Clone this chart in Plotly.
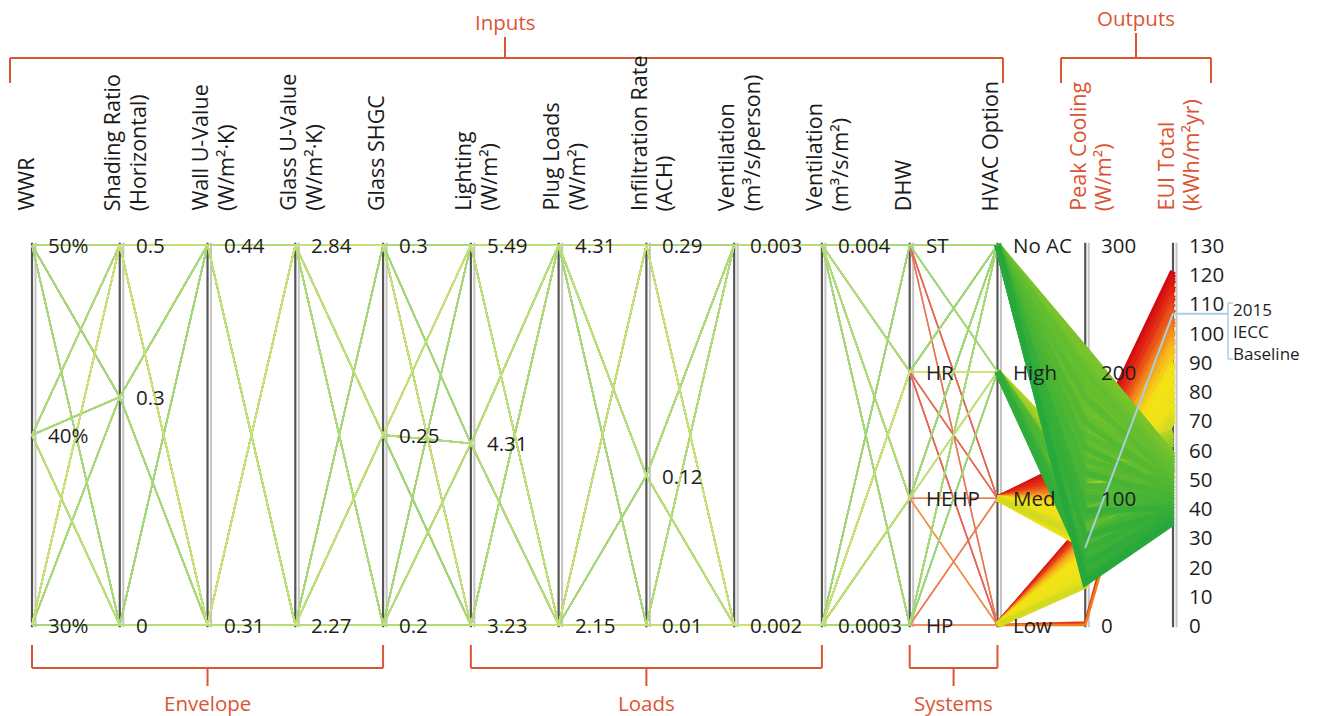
import plotly.graph_objects as go
from plotly.colors import sample_colorscale

W, H = 1317, 716
AX0, AXSTEP = 32.0, 87.77      # pixel x of first axis and spacing between axes
YTOP, YBOT = 245.0, 625.0      # pixel y of axis top / bottom
FONT = "Open Sans"

# ---------------- axes: titles, levels, tick labels ----------------
axis_titles = [["WWR"], ["Shading Ratio", "(Horizontal)"], ["Wall U-Value", "(W/m²·K)"],
               ["Glass U-Value", "(W/m²·K)"], ["Glass SHGC"], ["Lighting", "(W/m²)"],
               ["Plug Loads", "(W/m²)"], ["Infiltration Rate", "(ACH)"],
               ["Ventilation", "(m³/s/person)"], ["Ventilation", "(m³/s/m²)"],
               ["DHW"], ["HVAC Option"], ["Peak Cooling", "(W/m²)"], ["EUI Total", "(kWh/m²yr)"]]

wwr_vals = [30, 40, 50];            wwr_text = ["30%", "40%", "50%"]
shade_vals = [0, 0.3, 0.5];         shade_text = ["0", "0.3", "0.5"]
wallu_vals = [0.31, 0.44];          wallu_text = ["0.31", "0.44"]
glassu_vals = [2.27, 2.84];         glassu_text = ["2.27", "2.84"]
shgc_vals = [0.2, 0.25, 0.3];       shgc_text = ["0.2", "0.25", "0.3"]
light_vals = [3.23, 4.31, 5.49];    light_text = ["3.23", "4.31", "5.49"]
plug_vals = [2.15, 4.31];           plug_text = ["2.15", "4.31"]
infil_vals = [0.01, 0.12, 0.29];    infil_text = ["0.01", "0.12", "0.29"]
ventp_vals = [0.002, 0.003];        ventp_text = ["0.002", "0.003"]
venta_vals = [0.0003, 0.004];       venta_text = ["0.0003", "0.004"]
dhw_cats = ["HP", "HEHP", "HR", "ST"]
hvac_cats = ["Low", "Med", "High", "No AC"]
peak_range = [0, 300];  peak_ticks = [0, 100, 200, 300]
eui_range = [0, 130];   eui_ticks = [0, 10, 20, 30, 40, 50, 60, 70, 80, 90, 100, 110, 120, 130]

# ---------------- design samples (inputs except HVAC) ----------------
design_wwr = [50, 50, 40, 30, 50, 40, 30, 40, 30, 50, 40, 30, 50, 40, 30, 50, 30, 40, 50, 30, 40, 50, 30, 40]
design_shade = [0.5, 0, 0.3, 0.5, 0.3, 0.5, 0, 0, 0.3, 0, 0.5, 0.5, 0.3, 0, 0.3, 0.5, 0, 0.3, 0, 0.5, 0, 0.3, 0.3, 0.5]
design_wallu = [0.44, 0.31, 0.44, 0.31, 0.31, 0.44, 0.44, 0.31, 0.44, 0.44, 0.31, 0.44, 0.44, 0.44, 0.31, 0.31,
                0.31, 0.31, 0.44, 0.31, 0.31, 0.44, 0.44, 0.44]
design_glassu = [2.84, 2.27, 2.27, 2.84, 2.84, 2.84, 2.27, 2.84, 2.84, 2.27, 2.27, 2.27, 2.27, 2.84, 2.27, 2.84,
                 2.84, 2.84, 2.84, 2.27, 2.27, 2.84, 2.27, 2.84]
design_shgc = [0.3, 0.2, 0.25, 0.3, 0.2, 0.25, 0.3, 0.25, 0.2, 0.3, 0.2, 0.25, 0.2, 0.3, 0.3, 0.25, 0.2, 0.3, 0.25,
               0.2, 0.25, 0.3, 0.25, 0.2]
design_light = [5.49, 3.23, 4.31, 3.23, 5.49, 3.23, 4.31, 5.49, 4.31, 3.23, 5.49, 5.49, 4.31, 5.49, 5.49, 4.31,
                3.23, 4.31, 3.23, 4.31, 3.23, 3.23, 4.31, 3.23]
design_plug = [4.31, 2.15, 4.31, 2.15, 2.15, 4.31, 2.15, 4.31, 4.31, 4.31, 2.15, 2.15, 2.15, 2.15, 4.31, 2.15,
               4.31, 4.31, 2.15, 4.31, 4.31, 2.15, 2.15, 4.31]
design_infil = [0.29, 0.01, 0.12, 0.29, 0.12, 0.01, 0.01, 0.29, 0.01, 0.12, 0.29, 0.01, 0.29, 0.12, 0.12, 0.01,
                0.29, 0.01, 0.29, 0.12, 0.29, 0.01, 0.12, 0.12]
design_ventp = [0.003, 0.002, 0.003, 0.002, 0.003, 0.002, 0.003, 0.002, 0.003, 0.002, 0.003, 0.002, 0.002, 0.003,
                0.003, 0.003, 0.003, 0.002, 0.002, 0.002, 0.003, 0.002, 0.002, 0.003]
design_venta = [0.004, 0.0003, 0.004, 0.0003, 0.004, 0.0003, 0.004, 0.0003, 0.004, 0.0003, 0.004, 0.0003, 0.0003,
                0.004, 0.004, 0.004, 0.004, 0.0003, 0.0003, 0.0003, 0.004, 0.0003, 0.0003, 0.004]
design_dhw = ["ST", "HP", "HEHP", "HR", "HP", "ST", "HEHP", "HR", "ST", "HP", "HR", "HEHP", "HEHP", "HP", "ST", "HR",
              "HP", "ST", "HEHP", "HR", "ST", "HR", "HP", "HEHP"]

# ---------------- simulation runs (design id, HVAC option, outputs) ----------------
noac_design = [0, 4, 8, 12, 16, 20, 1, 5, 9, 13, 17, 21, 2, 6, 10, 14, 18, 22, 3, 7, 11, 15, 19, 23,
               0, 9, 18, 3, 12, 21, 6, 15, 1, 11, 20, 5, 14, 23, 8, 17, 2, 7, 13, 19, 22, 4, 10, 16,
               1, 3, 5, 7, 9, 11, 13, 15, 17, 19, 21, 23]
noac_peak = [218, 210, 202, 195, 188, 180, 172, 165, 158, 150, 143, 136, 129, 122, 115, 108, 101, 95, 89, 83,
             77, 71, 66, 61, 56, 52, 48, 44, 41, 38, 36, 34, 33, 120, 160, 200, 90, 70, 140, 180,
             205, 190, 175, 150, 130, 110, 100, 85,
             214, 198, 185, 170, 162, 155, 146, 133, 125, 118, 105, 97]
noac_eui = [58, 57, 58, 56, 57, 55, 58, 54, 56, 55, 52, 56, 53, 50, 54, 51, 48, 52, 49, 46,
            50, 47, 44, 48, 43, 46, 41, 44, 39, 42, 37, 36, 35, 44, 48, 52, 40, 39, 46, 50,
            55, 53, 54, 50, 48, 46, 44, 43,
            57, 56, 55, 56, 53, 55, 54, 52, 53, 50, 49, 47]

high_design = [3, 7, 11, 15, 19, 23, 2, 6, 10, 14, 18, 22, 1, 5, 9, 13, 17, 21, 0, 4, 8, 12, 16, 20, 1]
high_peak = [128, 122, 116, 110, 104, 98, 93, 88, 84, 80, 76, 72, 68, 65, 62, 59, 56, 54, 52, 50,
             48, 60, 70, 90, 100]
high_eui = [66, 64, 65, 62, 63, 60, 58, 56, 54, 57, 52, 55, 50, 53, 47, 51, 44, 48, 41, 45,
            38, 40, 43, 46, 49]

med_design = [5, 10, 15, 20, 1, 6, 11, 16, 21, 2, 7, 12, 17, 22, 3, 8, 13, 18, 23, 4, 9, 14, 19, 0, 0]
med_peak = [134, 131, 128, 125, 122, 119, 116, 113, 110, 107, 104, 101, 98, 95, 92, 89, 86, 83, 80, 77,
            74, 71, 68, 65, 62]
med_eui = [121, 118, 116, 119, 113, 115, 110, 108, 105, 103, 101, 98, 95, 92, 89, 86, 83, 80, 78, 75,
           73, 71, 70, 72, 76]

low_design = [3, 0, 12, 15, 21, 5, 19, 8, 10, 16, 23, 2, 6, 13, 18, 20, 7, 11, 22, 1, 4]
low_peak = [80, 78, 76, 74, 72, 70, 67, 64, 61, 58, 55, 52, 49, 46, 43, 40, 37, 34, 31, 0, 2]
low_eui = [120, 116, 112, 118, 108, 104, 100, 97, 94, 90, 88, 85, 82, 80, 78, 76, 74, 72, 70, 103, 112]

baseline_peak = 61
baseline_eui = 106.5
baseline_label = "2015<br>IECC<br>Baseline"

# ---------------- colour scale for EUI ----------------
eui_cmin, eui_cmax = 35, 121
eui_colorscale = [[0.0, "#26a83c"], [0.116, "#4ab534"], [0.233, "#6cc02d"], [0.314, "#92ca28"],
                  [0.384, "#c8d820"], [0.453, "#ece21a"], [0.616, "#f3e314"], [0.721, "#f6b01f"],
                  [0.814, "#ef6a19"], [0.919, "#e02a14"], [1.0, "#d30b10"]]


def eui_color(v):
    t = min(1.0, max(0.0, (v - eui_cmin) / (eui_cmax - eui_cmin)))
    return sample_colorscale(eui_colorscale, [t])[0]


def lighten(rgb_str, f):
    r, g, b = [float(c) for c in rgb_str[rgb_str.index("(") + 1:-1].split(",")]
    return "rgb(%d,%d,%d)" % (r + (255 - r) * f, g + (255 - g) * f, b + (255 - b) * f)


def nnum(v, vals):
    return (v - min(vals)) / (max(vals) - min(vals))


def ncat(v, cats):
    return cats.index(v) / (len(cats) - 1)


# assemble runs
runs = []
for dl, hv, pk, eu in [(noac_design, "No AC", noac_peak, noac_eui), (high_design, "High", high_peak, high_eui),
                       (med_design, "Med", med_peak, med_eui), (low_design, "Low", low_peak, low_eui)]:
    for d, p, e in zip(dl, pk, eu):
        ys = [nnum(design_wwr[d], wwr_vals), nnum(design_shade[d], shade_vals), nnum(design_wallu[d], wallu_vals),
              nnum(design_glassu[d], glassu_vals), nnum(design_shgc[d], shgc_vals),
              nnum(design_light[d], light_vals), nnum(design_plug[d], plug_vals),
              nnum(design_infil[d], infil_vals), nnum(design_ventp[d], ventp_vals),
              nnum(design_venta[d], venta_vals), ncat(design_dhw[d], dhw_cats), ncat(hv, hvac_cats),
              nnum(p, peak_range), nnum(e, eui_range)]
        runs.append(dict(hvac=hv, ys=ys, eui=e))

fig = go.Figure()
N_AX = len(axis_titles)
off = 3.5 / AXSTEP

# axes (drawn under the lines)
for i in range(N_AX):
    fig.add_trace(go.Scatter(x=[i + off, i + off], y=[-0.006, 1.006], mode="lines",
                             line=dict(color="#c4c4c4", width=2), hoverinfo="skip"))
    fig.add_trace(go.Scatter(x=[i, i], y=[-0.006, 1.006], mode="lines",
                             line=dict(color="#555555", width=2.2), hoverinfo="skip"))

# input part of each line
cool_runs = sorted([r for r in runs if r["hvac"] in ("Low", "Med")], key=lambda r: r["eui"])
warm_runs = sorted([r for r in runs if r["hvac"] in ("High", "No AC")], key=lambda r: r["eui"])
for r in cool_runs + warm_runs:
    fig.add_trace(go.Scatter(x=list(range(12)), y=r["ys"][:12], mode="lines",
                             line=dict(color=lighten(eui_color(r["eui"]), 0.36), width=1.4),
                             hoverinfo="skip"))

# output part of each line (high EUI first, low EUI on top)
for r in sorted(runs, key=lambda r: -r["eui"]):
    w = 6 if r["ys"][12] > 0.05 else 2.5
    fig.add_trace(go.Scatter(x=[11, 12, 13], y=r["ys"][11:], mode="lines",
                             line=dict(color=eui_color(r["eui"]), width=w), hoverinfo="skip"))

# baseline line
yb = nnum(baseline_eui, eui_range)
fig.add_trace(go.Scatter(x=[12, 13], y=[nnum(baseline_peak, peak_range), yb], mode="lines",
                         line=dict(color="#a7cfe2", width=2), hoverinfo="skip"))

# ---------------- annotations ----------------
ann = []
tick_font = dict(family=FONT, size=20.5, color="#1e1e1e")
tick_dx = 14 / AXSTEP


def add_ticks(i, ypos, texts):
    for y, t in zip(ypos, texts):
        ann.append(dict(x=i + tick_dx, y=y, xref="x", yref="y", text=t, showarrow=False,
                        xanchor="left", yanchor="middle", font=tick_font))


num_axes = [(wwr_vals, wwr_text), (shade_vals, shade_text), (wallu_vals, wallu_text), (glassu_vals, glassu_text),
            (shgc_vals, shgc_text), (light_vals, light_text), (plug_vals, plug_text), (infil_vals, infil_text),
            (ventp_vals, ventp_text), (venta_vals, venta_text)]
for i, (vals, txt) in enumerate(num_axes):
    add_ticks(i, [nnum(v, vals) for v in vals], txt)
add_ticks(10, [ncat(c, dhw_cats) for c in dhw_cats], dhw_cats)
add_ticks(11, [ncat(c, hvac_cats) for c in hvac_cats], hvac_cats)
add_ticks(12, [nnum(v, peak_range) for v in peak_ticks], [str(v) for v in peak_ticks])
add_ticks(13, [nnum(v, eui_range) for v in eui_ticks], [str(v) for v in eui_ticks])

ORANGE = "#dc5532"


def px_x(px):
    return px / W


def px_y(py):
    return 1 - py / H


for i, lines in enumerate(axis_titles):
    col = ORANGE if i >= 12 else "#1a1a1a"
    ax_px = AX0 + i * AXSTEP
    offs = [-7] if len(lines) == 1 else [-8, 18]
    for t, o in zip(lines, offs):
        ann.append(dict(x=px_x(ax_px + o), y=px_y(213), xref="paper", yref="paper", text=t,
                        textangle=-90, showarrow=False, xanchor="center", yanchor="bottom",
                        font=dict(family=FONT, size=21.5, color=col)))

group_font = dict(family=FONT, size=20.5, color=ORANGE)
ann.append(dict(x=px_x(505), y=px_y(22), xref="paper", yref="paper", text="Inputs", showarrow=False,
                xanchor="center", yanchor="middle", font=group_font))
ann.append(dict(x=px_x(1136), y=px_y(18), xref="paper", yref="paper", text="Outputs", showarrow=False,
                xanchor="center", yanchor="middle", font=group_font))
for name, a, b in [("Envelope", 0, 4), ("Loads", 5, 9), ("Systems", 10, 11)]:
    xc = AX0 + (a + b) / 2 * AXSTEP
    ann.append(dict(x=px_x(xc), y=px_y(703), xref="paper", yref="paper", text=name, showarrow=False,
                    xanchor="center", yanchor="middle", font=group_font))
ann.append(dict(x=px_x(1231), y=px_y(331), xref="paper", yref="paper", text=baseline_label, showarrow=False,
                xanchor="left", yanchor="middle", align="left",
                font=dict(family=FONT, size=17, color="#1e1e1e")))

# ---------------- brackets ----------------
shapes = []


def seg(x0, y0, x1, y1, color=ORANGE, w=2):
    shapes.append(dict(type="line", xref="paper", yref="paper", x0=px_x(x0), y0=px_y(y0),
                       x1=px_x(x1), y1=px_y(y1), line=dict(color=color, width=w)))


def top_bracket(xl, xr, xc, y_line, y_end, y_tip):
    seg(xl, y_line, xr, y_line)
    seg(xl, y_line, xl, y_end)
    seg(xr, y_line, xr, y_end)
    seg(xc, y_line, xc, y_tip)


top_bracket(10, 1003, 505, 58, 83, 37)
top_bracket(1061, 1211, 1136, 58, 83, 33)
for name, a, b in [("Envelope", 0, 4), ("Loads", 5, 9), ("Systems", 10, 11)]:
    xl, xr = AX0 + a * AXSTEP, AX0 + b * AXSTEP
    xc = (xl + xr) / 2
    seg(xl, 668, xr, 668)
    seg(xl, 645, xl, 668)
    seg(xr, 645, xr, 668)
    seg(xc, 668, xc, 686)

# baseline leader and bracket
BLUE = "#a7cfe2"
yb_px = YBOT - yb * (YBOT - YTOP)
seg(AX0 + 13 * AXSTEP, yb_px, 1228, yb_px, BLUE, 2)
seg(1228, 303, 1228, 359, BLUE, 1.5)
seg(1228, 303, 1233, 303, BLUE, 1.5)
seg(1228, 359, 1233, 359, BLUE, 1.5)

xmin = -AX0 / AXSTEP
xmax = (W - AX0) / AXSTEP
span = YBOT - YTOP
ymin = -(H - YBOT) / span
ymax = 1 + YTOP / span

fig.update_layout(width=W, height=H, margin=dict(l=0, r=0, t=0, b=0), showlegend=False,
                  paper_bgcolor="white", plot_bgcolor="white",
                  xaxis=dict(visible=False, range=[xmin, xmax], fixedrange=True),
                  yaxis=dict(visible=False, range=[ymin, ymax], fixedrange=True),
                  annotations=ann, shapes=shapes, hovermode=False)

fig.write_html("out.html")
